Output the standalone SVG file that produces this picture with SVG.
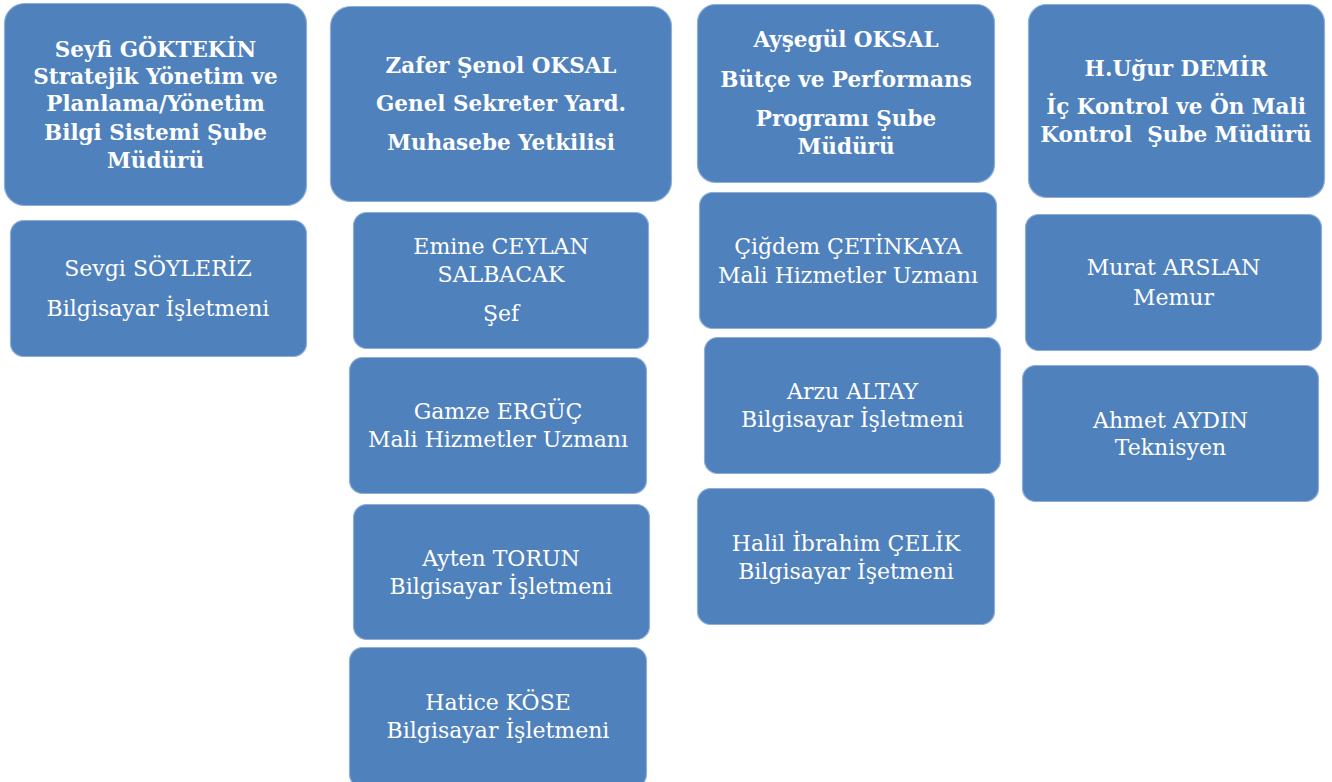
<svg xmlns="http://www.w3.org/2000/svg" width="1332" height="782" viewBox="0 0 1332 782">
<style>
.box{fill:#4F81BD;stroke:#8FAEDA;stroke-width:1.2}
.h{font-family:"DejaVu Serif","Liberation Serif",serif;font-weight:bold;font-size:21.5px;fill:#FFFFFF;text-anchor:middle}
.t{font-family:"DejaVu Serif","Liberation Serif",serif;font-size:22px;fill:#FFFFFF;text-anchor:middle}
</style>
<rect width="1332" height="782" fill="#FFFFFF"/>
<g id="connectors"></g>
<g id="n-seyfi">
<rect class="box" x="4.5" y="3.5" width="302" height="202" rx="20"/>
<text class="h" x="155.5"><tspan x="155.5" y="57">Seyfi GÖKTEKİN</tspan><tspan x="155.5" y="84">Stratejik Yönetim ve</tspan><tspan x="155.5" y="111">Planlama/Yönetim</tspan><tspan x="155.5" y="140">Bilgi Sistemi Şube</tspan><tspan x="155.5" y="168">Müdürü</tspan></text>
</g>
<g id="n-zafer">
<rect class="box" x="330.5" y="6.5" width="341" height="195" rx="20"/>
<text class="h" x="501"><tspan x="501" y="73">Zafer Şenol OKSAL</tspan><tspan x="501" y="111">Genel Sekreter Yard.</tspan><tspan x="501" y="150">Muhasebe Yetkilisi</tspan></text>
</g>
<g id="n-aysegul">
<rect class="box" x="697.5" y="4.5" width="297" height="178" rx="18"/>
<text class="h" x="846"><tspan x="846" y="47">Ayşegül OKSAL</tspan><tspan x="846" y="87">Bütçe ve Performans</tspan><tspan x="846" y="126">Programı Şube</tspan><tspan x="846" y="154">Müdürü</tspan></text>
</g>
<g id="n-ugur">
<rect class="box" x="1028.5" y="4.5" width="296" height="193" rx="18"/>
<text class="h" x="1176"><tspan x="1176" y="76">H.Uğur DEMİR</tspan><tspan x="1176" y="114">İç Kontrol ve Ön Mali</tspan><tspan x="1176" y="142">Kontrol&#160; Şube Müdürü</tspan></text>
</g>
<g id="n-sevgi">
<rect class="box" x="10.5" y="220.5" width="296" height="136" rx="13"/>
<text class="t" x="158"><tspan x="158" y="276">Sevgi SÖYLERİZ</tspan><tspan x="158" y="316">Bilgisayar İşletmeni</tspan></text>
</g>
<g id="n-emine">
<rect class="box" x="353.5" y="212.5" width="295" height="136" rx="13"/>
<text class="t" x="501"><tspan x="501" y="254">Emine CEYLAN</tspan><tspan x="501" y="282">SALBACAK</tspan><tspan x="501" y="321">Şef</tspan></text>
</g>
<g id="n-gamze">
<rect class="box" x="349.5" y="357.5" width="297" height="136" rx="13"/>
<text class="t" x="498"><tspan x="498" y="419">Gamze ERGÜÇ</tspan><tspan x="498" y="447">Mali Hizmetler Uzmanı</tspan></text>
</g>
<g id="n-ayten">
<rect class="box" x="353.5" y="504.5" width="296" height="135" rx="13"/>
<text class="t" x="501"><tspan x="501" y="566">Ayten TORUN</tspan><tspan x="501" y="594">Bilgisayar İşletmeni</tspan></text>
</g>
<g id="n-hatice">
<rect class="box" x="349.5" y="647.5" width="297" height="140" rx="13"/>
<text class="t" x="498"><tspan x="498" y="710">Hatice KÖSE</tspan><tspan x="498" y="738">Bilgisayar İşletmeni</tspan></text>
</g>
<g id="n-cigdem">
<rect class="box" x="699.5" y="192.5" width="297" height="136" rx="13"/>
<text class="t" x="848"><tspan x="848" y="254">Çiğdem ÇETİNKAYA</tspan><tspan x="848" y="283">Mali Hizmetler Uzmanı</tspan></text>
</g>
<g id="n-arzu">
<rect class="box" x="704.5" y="337.5" width="296" height="136" rx="13"/>
<text class="t" x="852.5"><tspan x="852.5" y="399">Arzu ALTAY</tspan><tspan x="852.5" y="427">Bilgisayar İşletmeni</tspan></text>
</g>
<g id="n-halil">
<rect class="box" x="697.5" y="488.5" width="297" height="136" rx="13"/>
<text class="t" x="846"><tspan x="846" y="551">Halil İbrahim ÇELİK</tspan><tspan x="846" y="579">Bilgisayar İşetmeni</tspan></text>
</g>
<g id="n-murat">
<rect class="box" x="1025.5" y="214.5" width="296" height="136" rx="13"/>
<text class="t" x="1173.5"><tspan x="1173.5" y="275">Murat ARSLAN</tspan><tspan x="1173.5" y="305">Memur</tspan></text>
</g>
<g id="n-ahmet">
<rect class="box" x="1022.5" y="365.5" width="296" height="136" rx="13"/>
<text class="t" x="1170.5"><tspan x="1170.5" y="428">Ahmet AYDIN</tspan><tspan x="1170.5" y="455">Teknisyen</tspan></text>
</g>
</svg>
